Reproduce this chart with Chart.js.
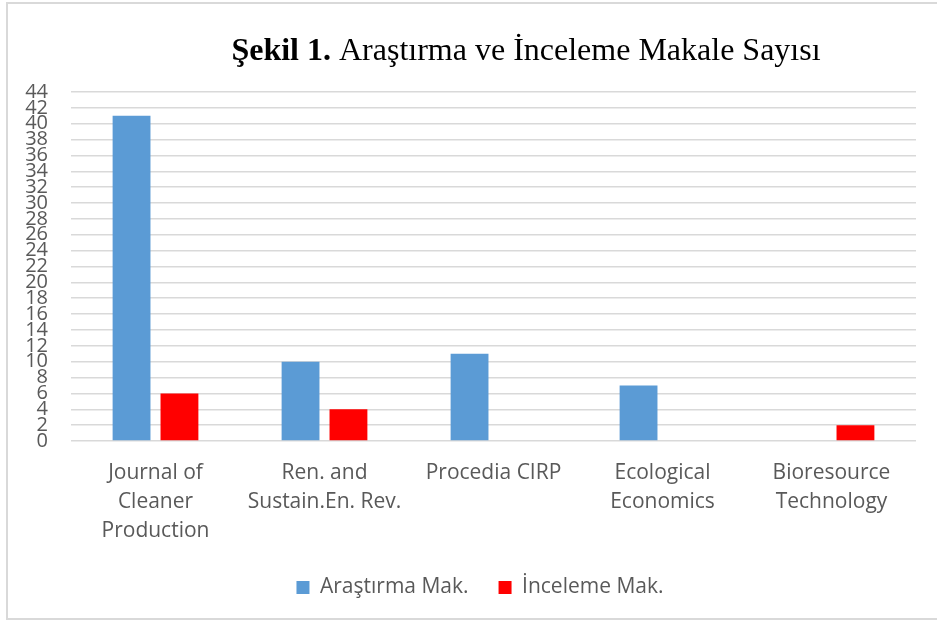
<!DOCTYPE html>
<html>
<head>
<meta charset="utf-8">
<script src="https://cdn.jsdelivr.net/npm/chart.js@4/dist/chart.umd.min.js"></script>
<style>
  html, body { margin: 0; padding: 0; background: #ffffff; }
  #wrap { position: relative; width: 937px; height: 626px; overflow: hidden; }
  #frame { position: absolute; left: 6px; top: 2px; width: 950px; height: 618px; border: 2px solid #d9d9d9; box-sizing: border-box; }
  canvas { position: absolute; left: 0; top: 0; }
</style>
</head>
<body>
<div id="wrap">
  <div id="frame"></div>
  <canvas id="c" width="937" height="626"></canvas>
</div>
<script>
const categories = [
  ["Journal of", "Cleaner", "Production"],
  ["Ren. and", "Sustain.En. Rev."],
  "Procedia CIRP",
  ["Ecological", "Economics"],
  ["Bioresource", "Technology"]
];
const arastirmaMak = [41, 10, 11, 7, 0];
const incelemeMak = [6, 4, 0, 0, 2];
const seriesNames = ["Araştırma Mak.", "İnceleme Mak."];
const titleBold = "Şekil 1.";
const titleRest = " Araştırma ve İnceleme Makale Sayısı";

const txt = "#595959";
const sans = "'Open Sans', 'Noto Sans', sans-serif";

const titlePlugin = {
  id: "mixedTitle",
  afterLayout(chart) {
    if (chart.legend) { chart.legend.left += 22; chart.legend.right += 22; }
  },
  afterDraw(chart) {
    const ctx = chart.ctx;
    ctx.save();
    ctx.fillStyle = "#000000";
    ctx.textBaseline = "alphabetic";
    ctx.textAlign = "left";
    const fb = "bold 32px 'Liberation Serif', 'Times New Roman', serif";
    const fr = "32px 'Liberation Serif', 'Times New Roman', serif";
    ctx.font = fb; const wb = ctx.measureText(titleBold).width;
    ctx.font = fr; const wr = ctx.measureText(titleRest).width;
    const cx = 526, y = 60;
    const x0 = cx - (wb + wr) / 2;
    ctx.font = fb; ctx.fillText(titleBold, x0, y);
    ctx.font = fr; ctx.fillText(titleRest, x0 + wb, y);
    ctx.restore();
  }
};

new Chart(document.getElementById("c"), {
  type: "bar",
  data: {
    labels: categories,
    datasets: [
      { label: seriesNames[0], data: arastirmaMak, backgroundColor: "#5B9BD5", borderWidth: 0,
        categoryPercentage: 0.567, barPercentage: 0.79 },
      { label: seriesNames[1], data: incelemeMak, backgroundColor: "#FF0000", borderWidth: 0,
        categoryPercentage: 0.567, barPercentage: 0.79 }
    ]
  },
  options: {
    responsive: false,
    animation: false,
    layout: { padding: { top: 92, right: 21, bottom: 18, left: 0 } },
    plugins: {
      title: { display: false },
      tooltip: { enabled: false },
      legend: {
        display: true,
        position: "bottom",
        labels: {
          boxWidth: 13, boxHeight: 13, padding: 30,
          color: txt,
          font: { family: sans, size: 21 }
        }
      }
    },
    scales: {
      x: {
        grid: { display: false, drawTicks: false },
        border: { display: false },
        ticks: {
          color: txt, padding: 17, maxRotation: 0, autoSkip: false,
          font: { family: sans, size: 21, lineHeight: 1.4 }
        },
        afterFit(s) { s.height = 106; }
      },
      y: {
        min: 0, max: 44,
        grid: { color: "#d9d9d9", lineWidth: 1.5, drawTicks: false },
        border: { display: false },
        ticks: {
          stepSize: 2, autoSkip: false, color: txt, padding: 23,
          font: { family: sans, size: 20 }
        },
        afterFit(s) { s.width = 71; }
      }
    }
  },
  plugins: [titlePlugin]
});
</script>
</body>
</html>
